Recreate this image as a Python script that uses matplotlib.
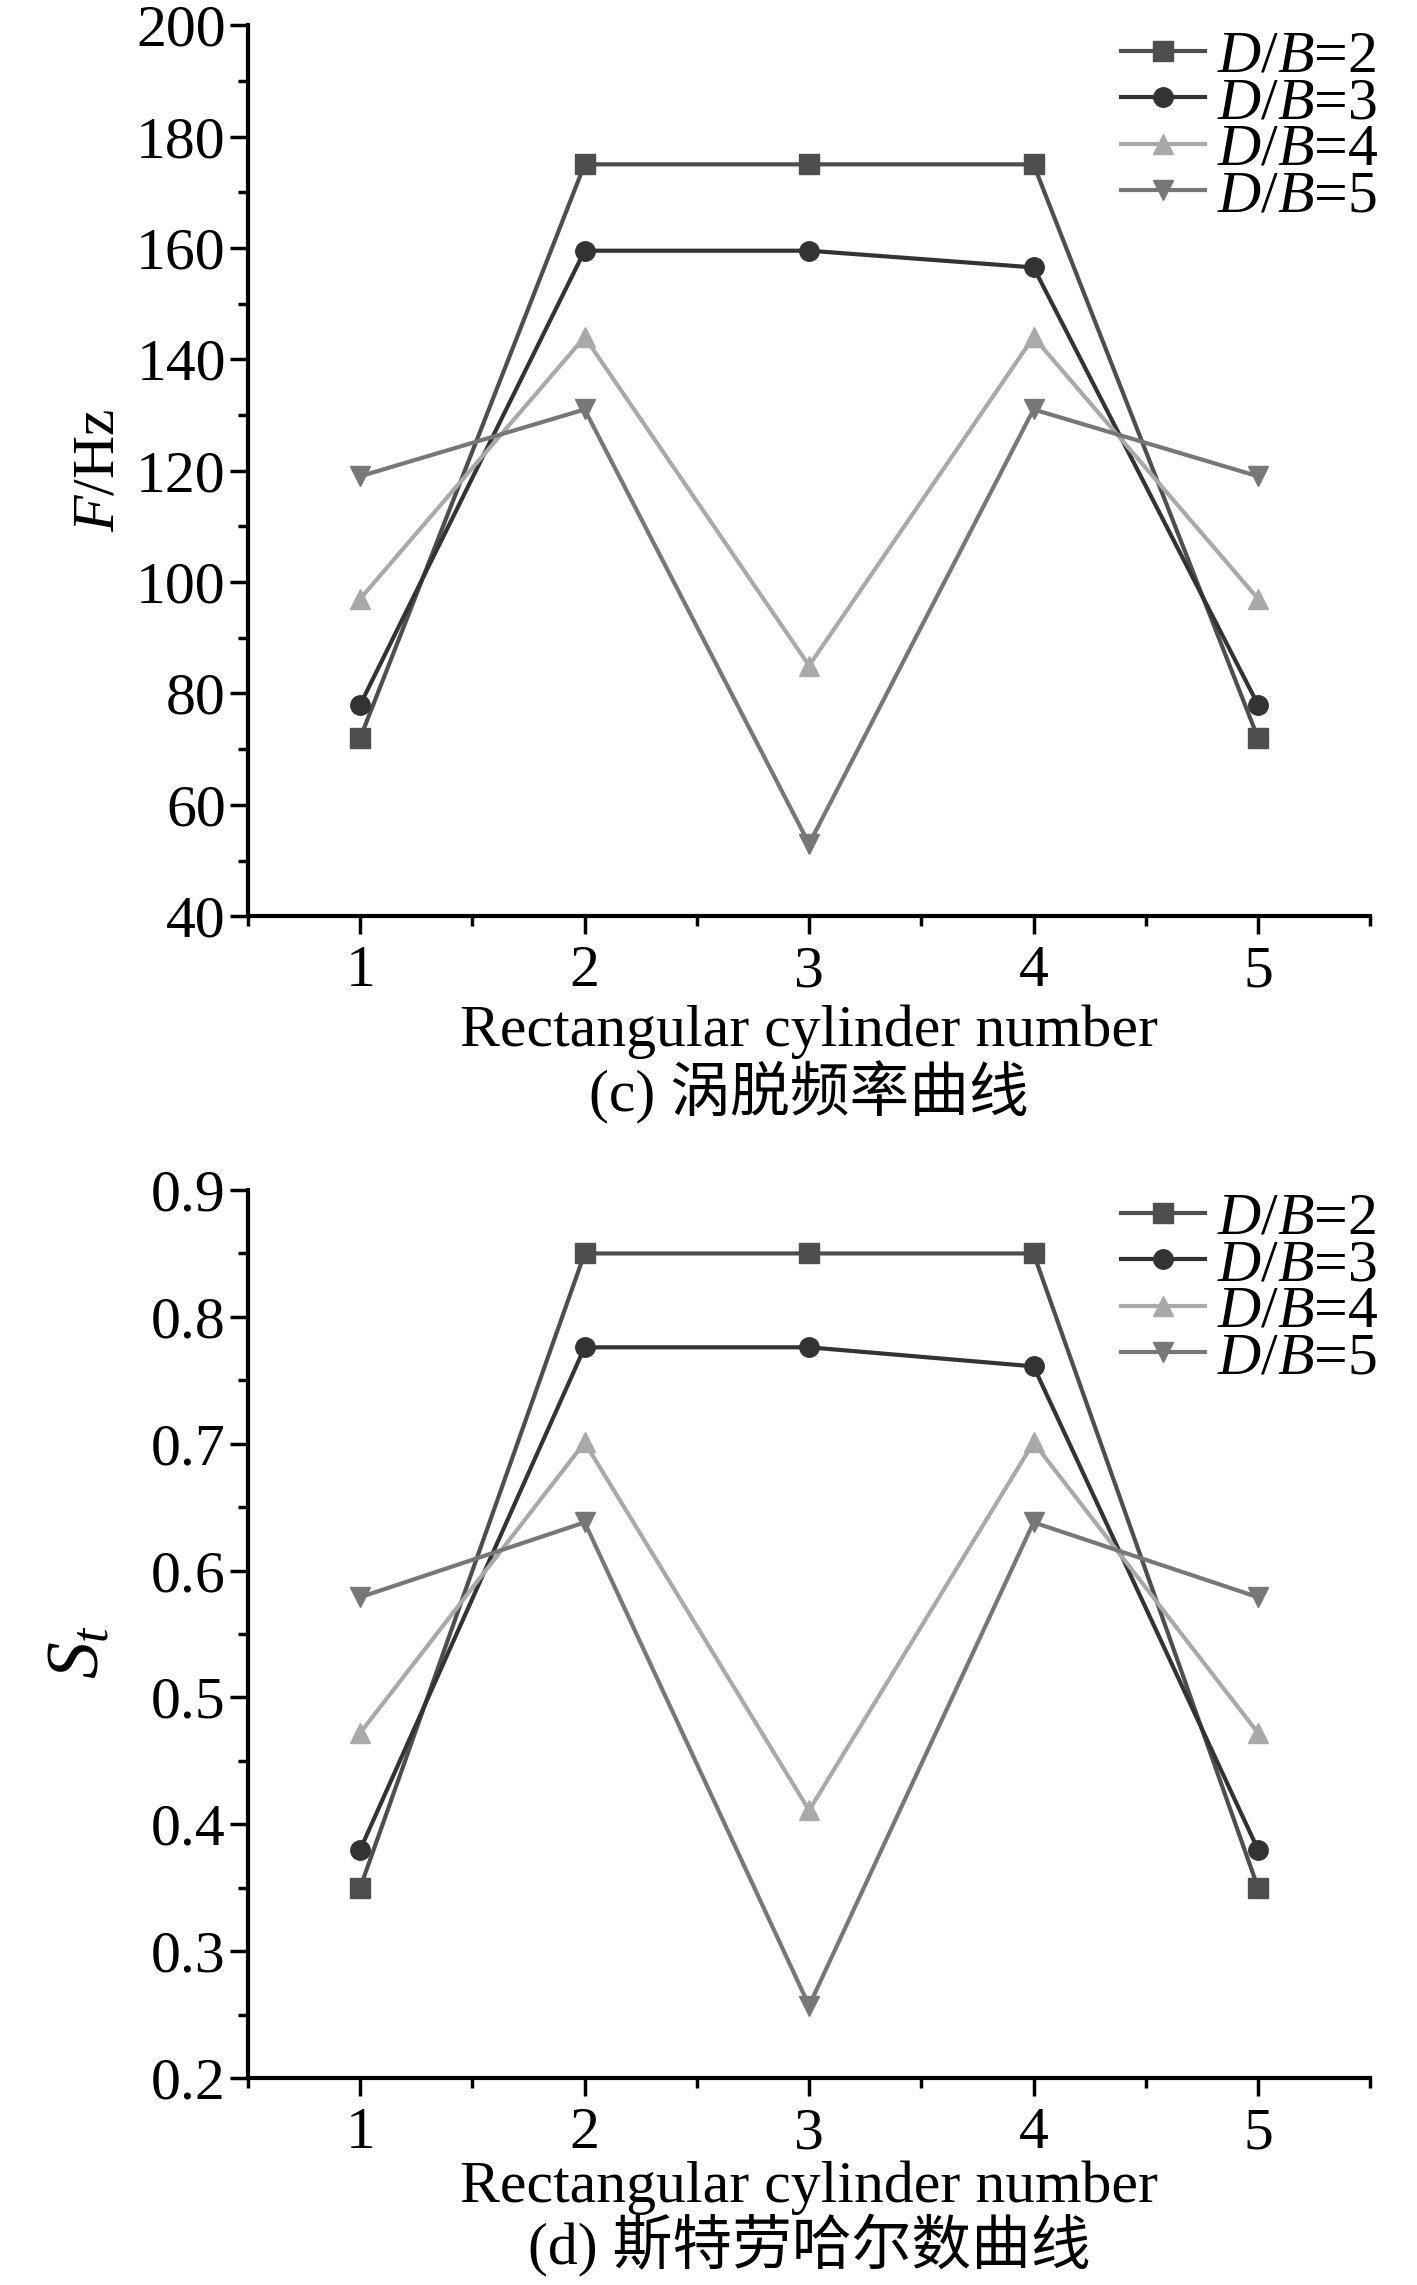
import numpy as np
import matplotlib
matplotlib.use("Agg")
import matplotlib.pyplot as plt
from matplotlib.ticker import MultipleLocator

plt.rcParams['font.family'] = ['Liberation Serif', 'Noto Sans CJK SC']
plt.rcParams['mathtext.fontset'] = 'custom'
plt.rcParams['mathtext.rm'] = 'Liberation Serif'
plt.rcParams['mathtext.it'] = 'Liberation Serif:italic'

# data
cyl = [1, 2, 3, 4, 5]
labels = [r'$D$/$B$=2', r'$D$/$B$=3', r'$D$/$B$=4', r'$D$/$B$=5']

freq_db2 = [72, 175, 175, 175, 72]
freq_db3 = [78, 159.5, 159.5, 156.5, 78]
freq_db4 = [97, 144, 85, 144, 97]
freq_db5 = [119, 131, 53, 131, 119]

st_db2 = [0.35, 0.85, 0.85, 0.85, 0.35]
st_db3 = [0.38, 0.776, 0.776, 0.761, 0.38]
st_db4 = [0.472, 0.701, 0.411, 0.701, 0.472]
st_db5 = [0.579, 0.638, 0.257, 0.638, 0.579]

colors = ['#4e4e4e', '#333333', '#a9a9a9', '#777777']
markers = ['s', 'o', '^', 'v']
msizes = [14, 14, 15, 15]

fs = 43

fig = plt.figure(figsize=(14.17, 22.85), dpi=100)
ax1 = fig.add_axes([0.175, 0.599, 0.792, 0.390])
ax2 = fig.add_axes([0.175, 0.0906, 0.792, 0.3886])


def style(ax):
    for s in ['top', 'right']:
        ax.spines[s].set_visible(False)
    for s in ['left', 'bottom']:
        ax.spines[s].set_linewidth(3)
    ax.set_xlim(0.5, 5.5)
    ax.xaxis.set_major_locator(MultipleLocator(1))
    ax.xaxis.set_minor_locator(MultipleLocator(0.5))
    ax.tick_params(which='major', direction='out', length=13, width=2.5,
                   labelsize=fs, pad=3)
    ax.tick_params(which='minor', direction='out', length=7, width=2.5)
    ax.tick_params(axis='x', which='major', pad=8)


def draw(ax, series):
    for y, c, m, ms, lab in zip(series, colors, markers, msizes, labels):
        ax.plot(cyl, y, color=c, marker=m, markersize=ms, linewidth=3,
                label=lab, clip_on=False)


draw(ax1, [freq_db2, freq_db3, freq_db4, freq_db5])
style(ax1)
ax1.set_ylim(40, 200)
ax1.yaxis.set_major_locator(MultipleLocator(20))
ax1.yaxis.set_minor_locator(MultipleLocator(10))
ax1.set_ylabel(r'$F$/Hz', fontsize=fs)
ax1.yaxis.set_label_coords(-0.108, 0.5)
ax1.set_xlabel('Rectangular cylinder number', fontsize=fs)
ax1.xaxis.set_label_coords(0.5, -0.099)

draw(ax2, [st_db2, st_db3, st_db4, st_db5])
style(ax2)
ax2.set_ylim(0.2, 0.9)
ax2.yaxis.set_major_locator(MultipleLocator(0.1))
ax2.yaxis.set_minor_locator(MultipleLocator(0.05))
ax2.set_ylabel(r'$S_t$', fontsize=53)
ax2.yaxis.set_label_coords(-0.119, 0.48)
ax2.set_xlabel('Rectangular cylinder number', fontsize=fs)
ax2.xaxis.set_label_coords(0.5, -0.093)

for ax, top in [(ax1, 1 - 30 / 2285), (ax2, 1 - 1192 / 2285)]:
    ax.legend(loc='upper right', bbox_to_anchor=(1378 / 1417, top),
              bbox_transform=fig.transFigure, frameon=False, fontsize=fs,
              handlelength=1.4, handletextpad=0.2, labelspacing=-0.14,
              borderpad=0, borderaxespad=0, numpoints=1, markerscale=1)

fig.text(0.571, 1 - 1093 / 2285, '(c) 涡脱频率曲线', fontsize=fs,
         ha='center', va='center')
fig.text(0.571, 1 - 2246 / 2285, '(d) 斯特劳哈尔数曲线', fontsize=fs,
         ha='center', va='center')

fig.savefig('out.png', dpi=100)
